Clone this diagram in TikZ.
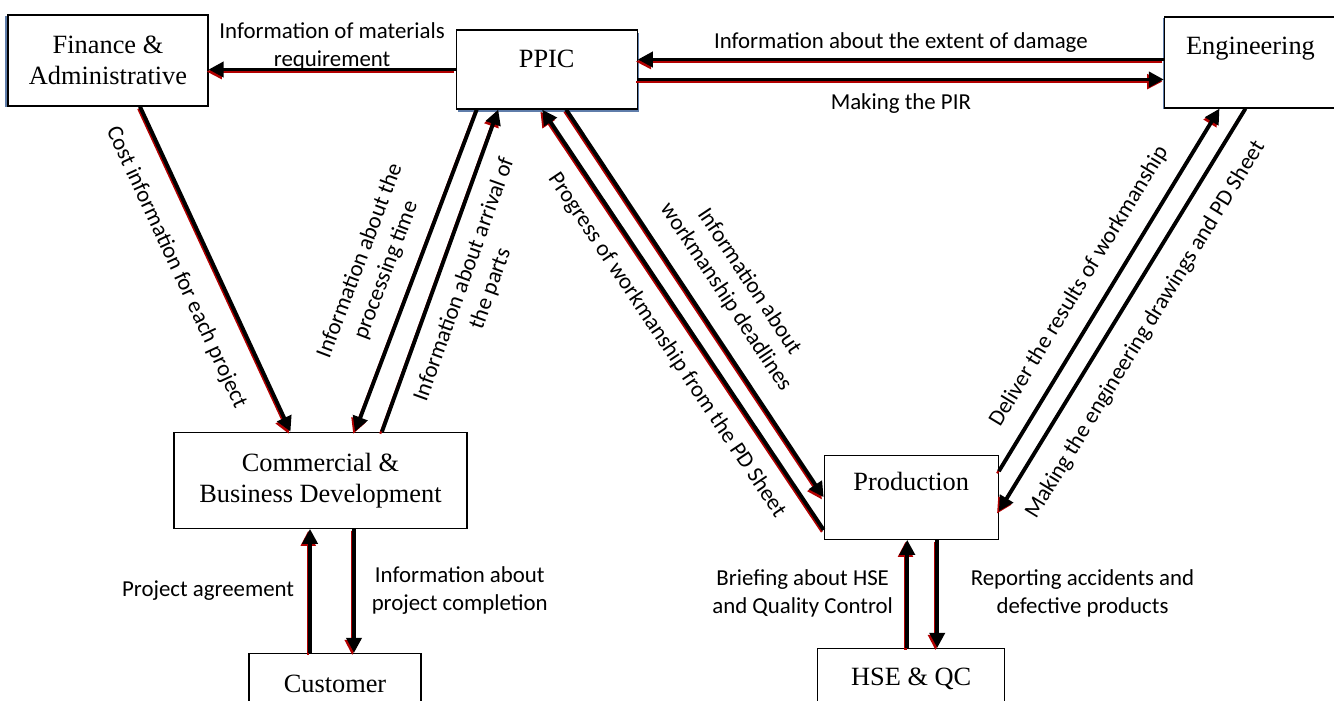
\documentclass[tikz,border=0pt]{standalone}
\usepackage{fontspec}
\setmainfont{Liberation Serif}
\newfontfamily\lblfont{Carlito}
\usetikzlibrary{arrows.meta,positioning}
\definecolor{shadeblue}{RGB}{95,125,170}

\begin{document}
\begin{tikzpicture}[
  node distance=1cm,
  dept/.style={draw, fill=white, line width=0.7pt, align=center, inner sep=2pt,
    font=\fontsize{15}{17.6}\selectfont},
  bsh/.style={preaction={fill=shadeblue, transform canvas={shift={#1}}}},
  lbl/.style={font=\lblfont\fontsize{13}{15.9}\selectfont, align=center,
    inner sep=1pt},
  arr/.style={-{Triangle[length=0.3cm,width=0.3cm]}, line width=2.2pt,
    preaction={draw=red!70!black, line width=1.2pt,
      transform canvas={shift={(-1pt,-1.2pt)}}}}
]
  \useasboundingbox (0,0) rectangle (26.68,-14);

  \node[dept, bsh={(-1.5pt,-0.5pt)}, minimum width=4cm, minimum height=1.82cm]
    (fin) at (2.16,-1.21) {Finance \&\\Administrative};
  \node[dept, bsh={(1pt,-1.5pt)}, minimum width=3.62cm, minimum height=1.58cm,
    right=4.94cm of fin, yshift=-0.18cm] (ppic) {PPIC\\[-11pt]\strut};
  \node[dept, bsh={(-1pt,-0.5pt)}, minimum width=3.44cm, minimum height=1.82cm,
    right=10.52cm of ppic, yshift=0.14cm] (eng) {Engineering\\[-4pt]\strut};
  \node[dept, minimum width=5.86cm, minimum height=1.92cm,
    below=6.5cm of fin, xshift=4.25cm] (com) {Commercial \&\\Business Development};
  \node[dept, minimum width=3.44cm, minimum height=1.2cm,
    below=2.48cm of com, xshift=0.29cm] (cust) {Customer};
  \node[dept, minimum width=3.48cm, minimum height=1.68cm,
    below=6.9cm of ppic, xshift=7.29cm] (prod) {Production\\[-5pt]\strut};
  \node[dept, minimum width=3.74cm, minimum height=1.2cm,
    below=2.16cm of prod] (hse) {HSE \& QC};

  \coordinate (pa) at ([yshift=0.2cm]ppic.east);
  \coordinate (pb) at ([yshift=-0.2cm]ppic.east);

  % top row
  \draw[arr] (ppic.west) -- (ppic.west -| fin.east)
    node[lbl, midway, above=-2.5pt] (l1) {Information of materials\\requirement};
  \draw[arr] (eng.west |- pa) -- (pa)
    node[lbl, midway, above=2pt] (l2) {Information about the extent of damage};
  \draw[arr] (pb) -- (eng.west |- pb)
    node[lbl, midway, below=6pt] (l3) {Making the PIR};

  % left triangle
  \draw[arr] ([xshift=0.64cm]fin.south) -- ([xshift=-0.6cm]com.north)
    node[lbl, pos=0.45, sloped, below=12pt] (l4) {Cost information for each project};
  \draw[arr] ([xshift=-1.4cm]ppic.south) -- ([xshift=0.69cm]com.north)
    node[lbl, pos=0.53, sloped, above=8pt] (l5) {Information about the\\processing time};
  \draw[arr] ([xshift=1.23cm]com.north) -- ([xshift=-0.97cm]ppic.south)
    node[lbl, midway, sloped, below=7pt] (l6) {Information about arrival of\\the parts};

  % right triangle
  \draw[arr] ([xshift=0.39cm]ppic.south) -- (prod.west)
    node[lbl, pos=0.525, sloped, above=9pt] (l7) {Information about\\workmanship deadlines};
  \draw[arr] ([yshift=0.2cm]prod.south west) -- ([xshift=-0.09cm]ppic.south)
    node[lbl, pos=0.476, sloped, below=8pt] (l8) {Progress of workmanship from the PD Sheet};
  \draw[arr] ([yshift=0.52cm]prod.east) -- ([xshift=-0.62cm]eng.south)
    node[lbl, pos=0.47, sloped, above=8pt] (l9) {Deliver the results of workmanship};
  \draw[arr] ([xshift=-0.1cm]eng.south) -- ([yshift=-0.28cm]prod.east)
    node[lbl, pos=0.51, sloped, below=9.5pt] (l10) {Making the engineering drawings and PD Sheet};

  % bottom links
  \draw[arr] ([xshift=-0.5cm]cust.north) -- ([xshift=-0.21cm]com.south)
    node[lbl, midway, left=7pt] (l11) {Project agreement};
  \draw[arr] ([xshift=0.67cm]com.south) -- ([xshift=0.38cm]cust.north)
    node[lbl, midway, right=8pt] (l12) {Information about\\project completion};
  \draw[arr] ([xshift=-0.08cm]hse.north) -- ([xshift=-0.08cm]prod.south)
    node[lbl, midway, left=6pt] (l13) {Briefing about HSE\\and Quality Control};
  \draw[arr] ([xshift=0.52cm]prod.south) -- ([xshift=0.52cm]hse.north)
    node[lbl, midway, right=17pt] (l14) {Reporting accidents and\\defective products};
\end{tikzpicture}
\end{document}
